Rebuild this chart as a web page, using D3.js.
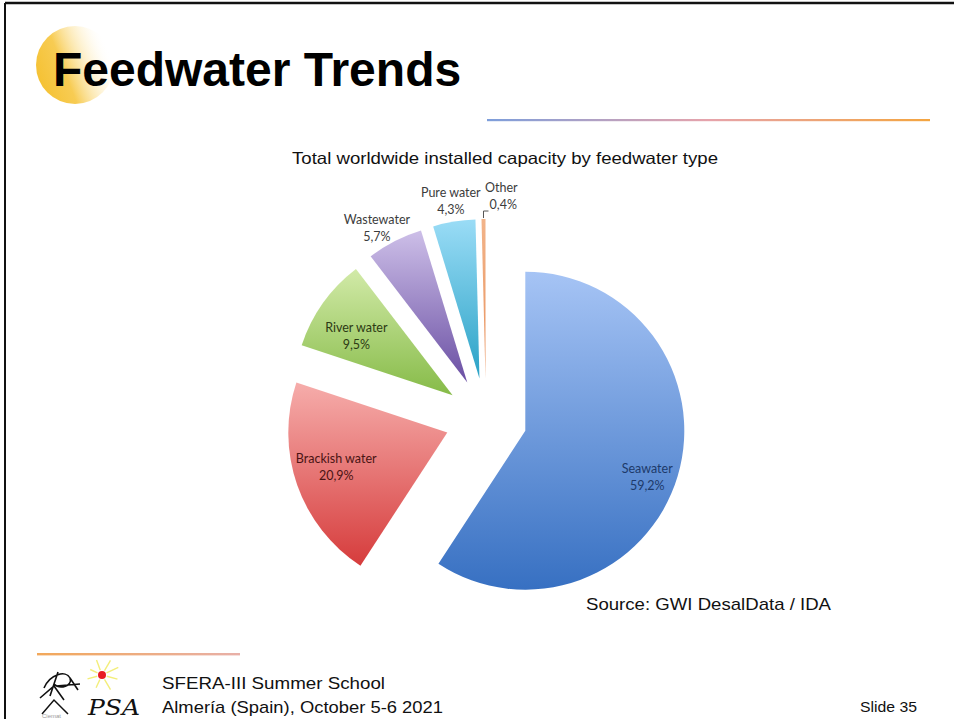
<!DOCTYPE html>
<html>
<head>
<meta charset="utf-8">
<script src="https://cdn.jsdelivr.net/npm/d3@7"></script>
<style>
  html, body { margin: 0; padding: 0; background: #fff; }
  svg { display: block; }
</style>
</head>
<body>
<svg id="chart" width="954" height="719"></svg>
<script>
// ---- data ----
const categories = ["Seawater", "Brackish water", "River water", "Wastewater", "Pure water", "Other"];
const values = [59.2, 20.9, 9.5, 5.7, 4.3, 0.4];
const valueLabels = ["59,2%", "20,9%", "9,5%", "5,7%", "4,3%", "0,4%"];
const chartTitle = "Total worldwide installed capacity by feedwater type";
const slideTitle = "Feedwater Trends";
const sourceText = "Source: GWI DesalData / IDA";
const footerLines = ["SFERA-III Summer School", "Almería (Spain), October 5-6 2021"];
const slideNumber = "Slide 35";

// ---- styles ----
const gradTop = ["#a6c4f5", "#f6adab", "#d2eaa8", "#cdbfe8", "#9adcf6", "#f2b48a"];
const gradBot = ["#3770c2", "#d63c3c", "#86bb48", "#6a4fa3", "#2aa2c6", "#e8905a"];
const labelColor = ["#1d3a6a", "#4a1414", "#2c3a14", "#3c3c3c", "#3c3c3c", "#3c3c3c"];
const insideLabel = [true, true, true, false, false, false];
const sans = "Liberation Sans, Arial, sans-serif";

const svg = d3.select("#chart");
const defs = svg.append("defs");

// slide frame
svg.append("line").attr("x1", 5).attr("y1", 3).attr("x2", 954).attr("y2", 3)
  .attr("stroke", "#111").attr("stroke-width", 2.5);
svg.append("line").attr("x1", 5).attr("y1", 3).attr("x2", 5).attr("y2", 719)
  .attr("stroke", "#111").attr("stroke-width", 2);

// title glow circle
const glow = defs.append("linearGradient").attr("id", "glow")
  .attr("x1", 0.05).attr("y1", 0.7).attr("x2", 0.95).attr("y2", 0.35);
glow.append("stop").attr("offset", 0).attr("stop-color", "#f5c235").attr("stop-opacity", 1);
glow.append("stop").attr("offset", 0.35).attr("stop-color", "#f7c94a").attr("stop-opacity", 0.95);
glow.append("stop").attr("offset", 0.8).attr("stop-color", "#fde9b0").attr("stop-opacity", 0.25);
glow.append("stop").attr("offset", 1).attr("stop-color", "#ffffff").attr("stop-opacity", 0);
svg.append("circle").attr("cx", 75).attr("cy", 65).attr("r", 39).attr("fill", "url(#glow)");

svg.append("text").attr("x", 53).attr("y", 86)
  .attr("font-family", sans).attr("font-weight", "bold")
  .attr("font-size", 48).attr("fill", "#000").text(slideTitle);

// title rule
const rule = defs.append("linearGradient").attr("id", "rule").attr("x1", 0).attr("x2", 1).attr("y1", 0).attr("y2", 0);
rule.append("stop").attr("offset", 0).attr("stop-color", "#7d9edb");
rule.append("stop").attr("offset", 0.5).attr("stop-color", "#e6a3ab");
rule.append("stop").attr("offset", 1).attr("stop-color", "#f4a540");
svg.append("rect").attr("x", 487).attr("y", 119).attr("width", 443).attr("height", 2.2).attr("fill", "url(#rule)");

// chart title
svg.append("text").attr("x", 292).attr("y", 164)
  .attr("font-family", sans).attr("font-size", 16.5)
  .attr("textLength", 426).attr("lengthAdjust", "spacingAndGlyphs")
  .attr("fill", "#111").text(chartTitle);

// ---- pie ----
const cx = 486, cy = 419, R = 159, explode = 41;
const data = categories.map((c, i) => ({ name: c, value: values[i], label: valueLabels[i], i }));
const pie = d3.pie().value(d => d.value).sort(null).startAngle(0).endAngle(2 * Math.PI);
const arcs = pie(data);
const arc = d3.arc().innerRadius(0).outerRadius(R);

arcs.forEach((a, i) => {
  const g = defs.append("linearGradient").attr("id", "sg" + i)
    .attr("x1", 0).attr("y1", 0).attr("x2", 0).attr("y2", 1);
  g.append("stop").attr("offset", 0).attr("stop-color", gradTop[i]);
  g.append("stop").attr("offset", 1).attr("stop-color", gradBot[i]);
});

const pieG = svg.append("g").attr("transform", `translate(${cx},${cy})`);
const sliceG = pieG.selectAll("g.slice").data(arcs).enter().append("g")
  .attr("class", "slice")
  .attr("transform", d => {
    const m = (d.startAngle + d.endAngle) / 2;
    return `translate(${explode * Math.sin(m)},${-explode * Math.cos(m)})`;
  });
sliceG.append("path").attr("d", arc).attr("fill", (d, i) => `url(#sg${i})`);

// labels
const fontLab = "Lato, 'Open Sans', sans-serif";
const labelK = [0.8, 0.74, 0.72, 1.12, 1.13, 1.13];
const nudge = [[0, 10], [0, -4], [-3, 7], [-9, 4], [0, 0], [18, -2]];
sliceG.each(function(d, i) {
  const m = (d.startAngle + d.endAngle) / 2;
  const k = labelK[i];
  const lx = k * R * Math.sin(m) + nudge[i][0], ly = -k * R * Math.cos(m) + nudge[i][1];
  const g = d3.select(this);
  if (i === 5) {
    // leader for the small "Other" slice
    const ty = -R * Math.cos(m);
    const tx = R * Math.sin(m);
    g.append("path").attr("d", `M${tx},${ty - 1}V${ty - 8}H${tx + 5}`)
      .attr("fill", "none").attr("stroke", "#555").attr("stroke-width", 1);
  }
  const t = g.append("text").attr("text-anchor", "middle")
    .attr("font-family", fontLab).attr("font-size", 12.5).attr("fill", labelColor[i]);
  t.append("tspan").attr("x", lx).attr("y", ly - 4).text(d.data.name);
  t.append("tspan").attr("x", lx + (i === 5 ? 2 : 0)).attr("y", ly + 13).text(d.data.label);
});

// source
svg.append("text").attr("x", 586).attr("y", 610)
  .attr("font-family", sans).attr("font-size", 17)
  .attr("textLength", 245).attr("lengthAdjust", "spacingAndGlyphs")
  .attr("fill", "#111").text(sourceText);

// ---- footer ----
const fr = defs.append("linearGradient").attr("id", "frule").attr("x1", 0).attr("x2", 1);
fr.append("stop").attr("offset", 0).attr("stop-color", "#f2a85a");
fr.append("stop").attr("offset", 1).attr("stop-color", "#e8b0a8");
svg.append("rect").attr("x", 37).attr("y", 653).attr("width", 203).attr("height", 2.4).attr("fill", "url(#frule)");

// logo (simplified)
const logo = svg.append("g").attr("transform", "translate(40,660)");
const rays = [[-60, 17], [-25, 18], [15, 16], [60, 17], [115, 14], [165, 15], [205, 13], [250, 16]];
rays.forEach(([ang, len]) => {
  const a = ang * Math.PI / 180;
  logo.append("line").attr("x1", 62 + 5 * Math.cos(a)).attr("y1", 15 + 5 * Math.sin(a))
    .attr("x2", 62 + len * Math.cos(a)).attr("y2", 15 + len * Math.sin(a))
    .attr("stroke", "#f3ee7a").attr("stroke-width", 1.4);
});
logo.append("circle").attr("cx", 62).attr("cy", 15).attr("r", 4).attr("fill", "#e81c24");
logo.append("path")
  .attr("d", "M4,28 C10,14 26,10 30,18 C33,26 20,30 14,24 M18,12 L10,36 M16,26 L40,24 M0,38 L14,26 L24,40 M30,18 L38,30")
  .attr("fill", "none").attr("stroke", "#111").attr("stroke-width", 1.6);
logo.append("path").attr("d", "M2,54 L14,40 L28,54").attr("fill", "none").attr("stroke", "#111").attr("stroke-width", 1.5);
logo.append("text").attr("x", 48).attr("y", 55).attr("font-family", "DejaVu Serif, serif")
  .attr("font-style", "italic").attr("font-size", 22).attr("fill", "#111")
  .attr("textLength", 52).attr("lengthAdjust", "spacingAndGlyphs").text("PSA");
logo.append("text").attr("x", 2).attr("y", 58).attr("font-family", sans)
  .attr("font-size", 6).attr("fill", "#999").text("Ciemat");

svg.append("text").attr("x", 162).attr("y", 689)
  .attr("font-family", sans).attr("font-size", 17)
  .attr("textLength", 223).attr("lengthAdjust", "spacingAndGlyphs")
  .attr("fill", "#111").text(footerLines[0]);
svg.append("text").attr("x", 162).attr("y", 713)
  .attr("font-family", sans).attr("font-size", 17)
  .attr("textLength", 281).attr("lengthAdjust", "spacingAndGlyphs")
  .attr("fill", "#111").text(footerLines[1]);
svg.append("text").attr("x", 860).attr("y", 712)
  .attr("font-family", sans).attr("font-size", 15.5)
  .attr("textLength", 57).attr("lengthAdjust", "spacingAndGlyphs")
  .attr("fill", "#111").text(slideNumber);
</script>
</body>
</html>
